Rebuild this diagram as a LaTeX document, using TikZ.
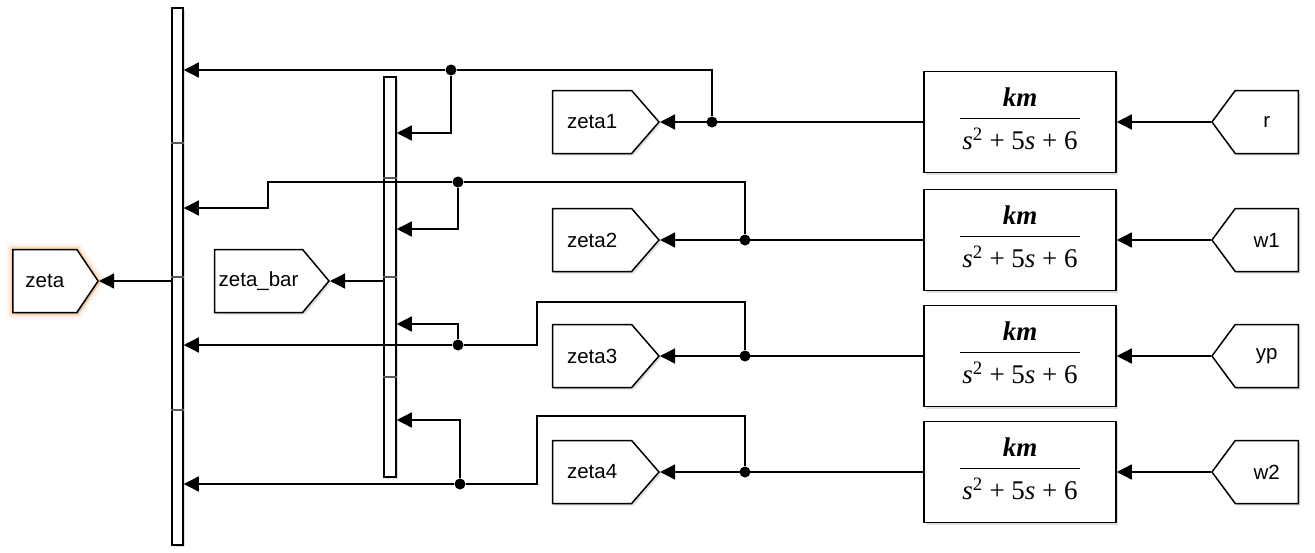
\documentclass[tikz,border=0pt]{standalone}
\usepackage{fontspec}
\setmainfont{Liberation Sans}
\newfontfamily\tffont{Liberation Serif}
\usetikzlibrary{shapes.symbols,shadows,arrows.meta}

\newcommand{\kmfrac}{{\tffont\fontsize{27}{30}\selectfont\setlength{\arrayrulewidth}{1.8pt}%
  \begin{tabular}{@{\hspace{2pt}}c@{\hspace{2pt}}}\bfseries\itshape km\\[2pt]\hline
  \rule{0pt}{30pt}\itshape s\textsuperscript{\upshape 2}\upshape\ +\ 5\itshape s\upshape\ +\ 6\end{tabular}}}

\tikzset{
  wire/.style={draw, line width=1.3pt},
  sig/.style={wire, -{Triangle[length=15pt,width=15pt]}},
  blkshadow/.style={drop shadow={shadow xshift=2pt, shadow yshift=-2pt, opacity=.25}},
  gotoblk/.style={signal, signal to=east, signal pointer angle=105, draw, line width=1.5pt,
    fill=white, minimum height=63pt, inner xsep=0pt, text width=#1, align=center,
    font=\fontsize{20.5}{24}\selectfont, blkshadow},
  fromblk/.style={gotoblk=#1, signal to=west},
  tfblk/.style={draw, line width=1.5pt, fill=white, minimum width=192pt, minimum height=101pt, blkshadow},
  muxbar/.style={draw, line width=1.5pt, fill=white, inner sep=0pt, blkshadow},
  divider/.style={draw=black!65, line width=1.3pt},
  joint/.style={circle, fill=black, inner sep=0pt, minimum size=11pt},
  glow/.style={preaction={draw=orange!50, line width=14pt, opacity=.08},
    preaction={draw=orange!60, line width=9pt, opacity=.15},
    preaction={draw=orange!70, line width=5pt, opacity=.3}}
}

\begin{document}
\begin{tikzpicture}[x=1pt, y=-1pt]
    \path[fill=white] (0,0) rectangle (1315,552);
    \useasboundingbox (0,0) rectangle (1315,552);

    \node[muxbar, minimum width=11pt, minimum height=537pt] (bmux) at (177.5,276.5) {};
    \foreach \y in {143,277,410}
        \draw[divider] (bmux.west |- 0,\y) -- (bmux.east |- 0,\y);
    \node[muxbar, minimum width=12pt, minimum height=400pt] (smux) at (390,277) {};
    \foreach \y in {178,277,377}
        \draw[divider] (smux.west |- 0,\y) -- (smux.east |- 0,\y);

    \node[gotoblk=64pt, glow, signal pointer angle=112, anchor=east] (zeta) at (99,281) {zeta};
    \node[gotoblk=88pt, signal pointer angle=100, anchor=east] (zetabar) at (330,281) {zeta\_bar};
    \draw[sig] (bmux.west |- zeta.east) -- (zeta.east);
    \draw[sig] (smux.west |- zetabar.east) -- (zetabar.east);

    \foreach \i/\y/\src in {1/122/r, 2/240/w1, 3/356/yp, 4/472/w2} {
        \node[tfblk] (tf\i) at (1020,\y) {\kmfrac};
        \node[fromblk=63pt, signal pointer angle=107, anchor=west] (from\i) at (1211,\y) {\src};
        \node[gotoblk=79pt, signal pointer angle=98, anchor=east] (goto\i) at (660,\y) {zeta\i};
        \draw[sig] (from\i.west) -- (tf\i.east |- from\i.west);
        \draw[sig] (tf\i.west |- goto\i.east) -- (goto\i.east);
    }

    \node[joint] (b1) at (712,122) {};
    \node[joint] (b2) at (745,240) {};
    \node[joint] (b3) at (745,356) {};
    \node[joint] (b4) at (745,472) {};
    \node[joint] (c1) at (451,70) {};
    \node[joint] (c2) at (458,182) {};
    \node[joint] (c3) at (458,345) {};
    \node[joint] (c4) at (460,484) {};

    \draw[wire] (b1) |- (c1);
    \draw[sig] (c1) -- (bmux.east |- c1);
    \draw[sig] (c1) |- (smux.east |- 0,133);

    \draw[wire] (b2) |- (c2);
    \draw[sig] (c2) -- (268,182) -- (268,208) -- (bmux.east |- 0,208);
    \draw[sig] (c2) |- (smux.east |- 0,229);

    \draw[wire] (b3) |- (537,302) |- (c3);
    \draw[sig] (c3) -- (bmux.east |- c3);
    \draw[sig] (c3) |- (smux.east |- 0,324);

    \draw[wire] (b4) |- (537,416) |- (c4);
    \draw[sig] (c4) -- (bmux.east |- c4);
    \draw[sig] (c4) |- (smux.east |- 0,420);
\end{tikzpicture}
\end{document}
